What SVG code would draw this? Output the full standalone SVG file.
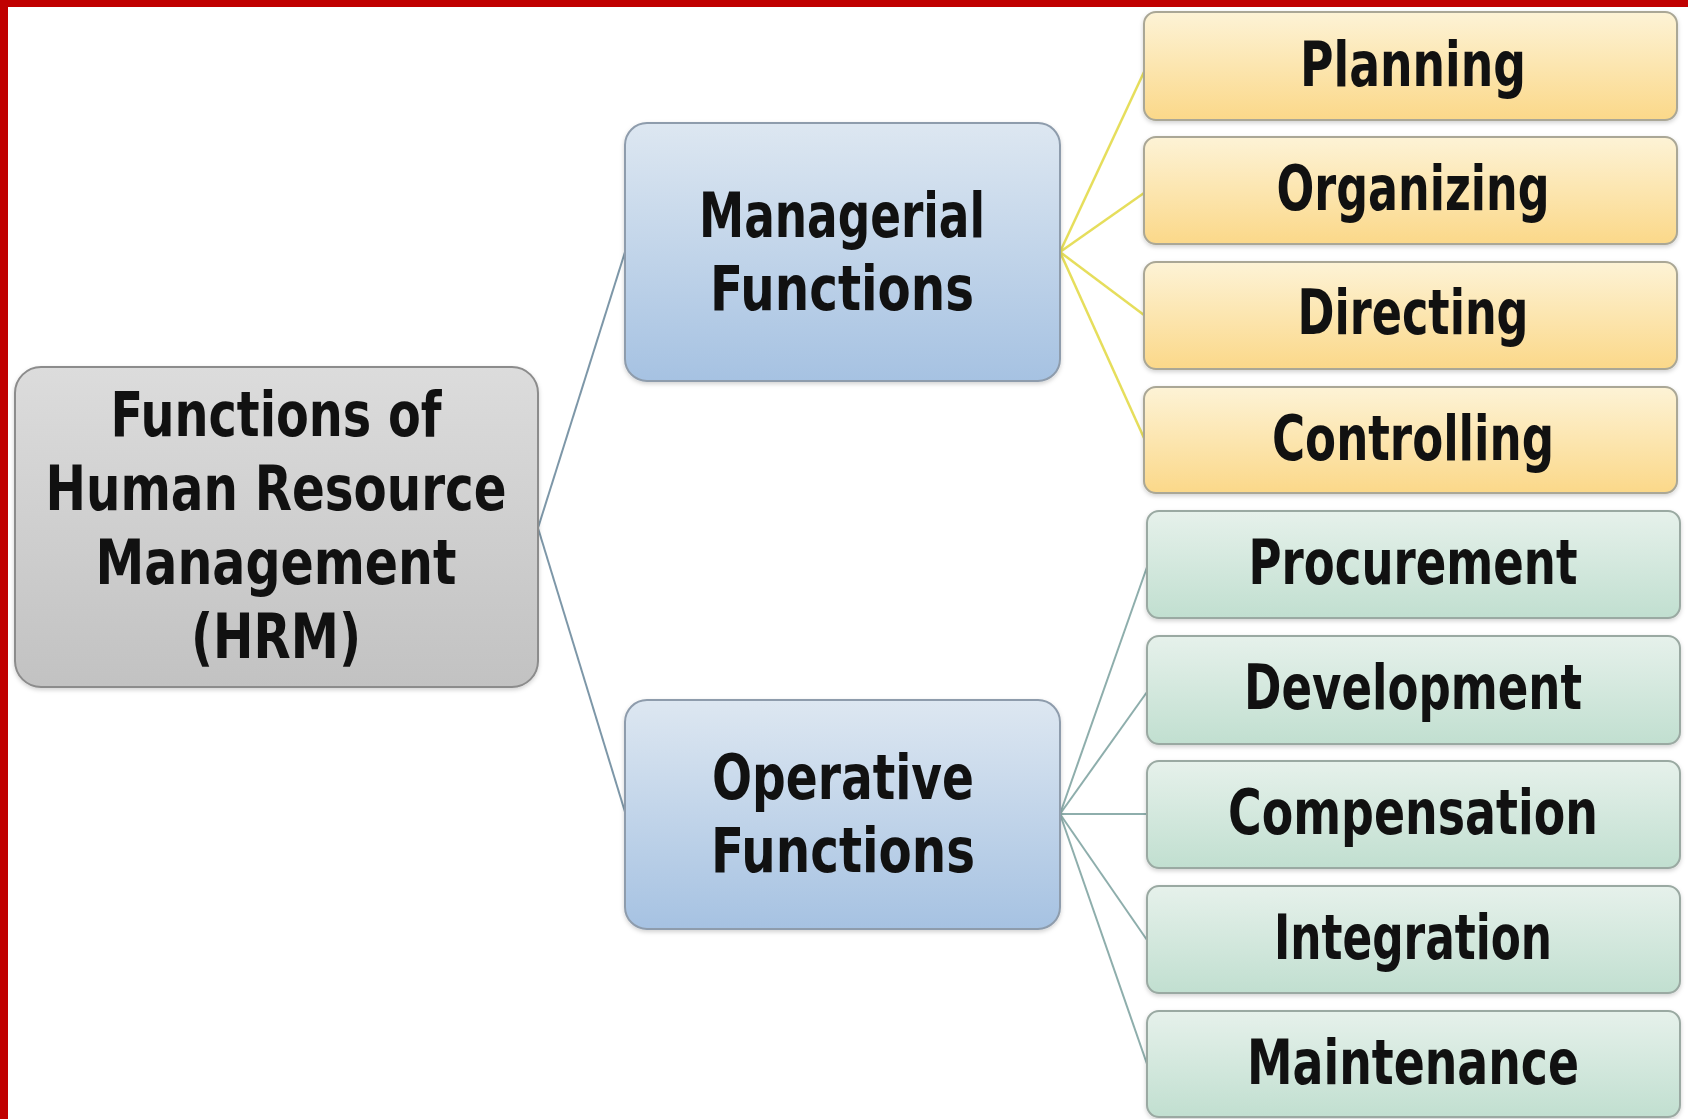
<svg xmlns="http://www.w3.org/2000/svg" width="1688" height="1119" viewBox="0 0 1688 1119">
  <defs>
    <linearGradient id="gGray" x1="0" y1="0" x2="0" y2="1">
      <stop offset="0" stop-color="#dcdcdc"/>
      <stop offset="1" stop-color="#c2c2c2"/>
    </linearGradient>
    <linearGradient id="gBlue" x1="0" y1="0" x2="0" y2="1">
      <stop offset="0" stop-color="#dde7f1"/>
      <stop offset="1" stop-color="#a6c2e2"/>
    </linearGradient>
    <linearGradient id="gYellow" x1="0" y1="0" x2="0" y2="1">
      <stop offset="0" stop-color="#fdf3d6"/>
      <stop offset="1" stop-color="#fbd889"/>
    </linearGradient>
    <linearGradient id="gGreen" x1="0" y1="0" x2="0" y2="1">
      <stop offset="0" stop-color="#e6f1eb"/>
      <stop offset="1" stop-color="#c1dfd0"/>
    </linearGradient>
    <filter id="soft" x="-5%" y="-10%" width="110%" height="125%">
      <feDropShadow dx="0" dy="2" stdDeviation="2" flood-color="#000" flood-opacity="0.18"/>
    </filter>
  </defs>
  <style>
    .lbl { font-family: "Liberation Sans Narrow", "DejaVu Sans Condensed", "Liberation Sans", sans-serif; font-weight: bold; font-size: 63px; fill: #111; text-anchor: middle; }
    .box { stroke-width: 2; filter: url(#soft); }
    .gray { fill: url(#gGray); stroke: #8c8c8c; }
    .blue { fill: url(#gBlue); stroke: #8e9cac; }
    .yellow { fill: url(#gYellow); stroke: #aaa796; }
    .green { fill: url(#gGreen); stroke: #9aa9a2; }
    .c-main { stroke: #7d97a8; stroke-width: 2; fill: none; }
    .c-yel { stroke: #e6de5c; stroke-width: 2.5; fill: none; }
    .c-grn { stroke: #8eaeac; stroke-width: 2; fill: none; }
  </style>

  <rect x="0" y="0" width="1688" height="1119" fill="#ffffff"/>

  <!-- frame: red bars along top and left edges -->
  <rect x="0" y="0" width="1688" height="7" fill="#c00000"/>
  <rect x="0" y="0" width="8" height="1119" fill="#c00000"/>

  <g id="connectors">
    <line class="c-main" x1="538" y1="528" x2="625" y2="252"/>
    <line class="c-main" x1="538" y1="528" x2="625" y2="812"/>
    <line class="c-yel" x1="1060" y1="252" x2="1144" y2="72"/>
    <line class="c-yel" x1="1060" y1="252" x2="1144" y2="193"/>
    <line class="c-yel" x1="1060" y1="252" x2="1144" y2="315"/>
    <line class="c-yel" x1="1060" y1="252" x2="1144" y2="438"/>
    <line class="c-grn" x1="1060" y1="814" x2="1147" y2="567"/>
    <line class="c-grn" x1="1060" y1="814" x2="1147" y2="692"/>
    <line class="c-grn" x1="1060" y1="814" x2="1147" y2="814"/>
    <line class="c-grn" x1="1060" y1="814" x2="1147" y2="940"/>
    <line class="c-grn" x1="1060" y1="814" x2="1147" y2="1064"/>
  </g>

  <g id="hrm">
    <rect class="box gray" x="15" y="367" width="523" height="320" rx="26"/>
    <text class="lbl" x="276" y="436" textLength="331" lengthAdjust="spacingAndGlyphs">Functions of</text>
    <text class="lbl" x="276" y="510" textLength="461" lengthAdjust="spacingAndGlyphs">Human Resource</text>
    <text class="lbl" x="276" y="584" textLength="361" lengthAdjust="spacingAndGlyphs">Management</text>
    <text class="lbl" x="276" y="658" textLength="170" lengthAdjust="spacingAndGlyphs">(HRM)</text>
  </g>

  <g id="managerial">
    <rect class="box blue" x="625" y="123" width="435" height="258" rx="22"/>
    <text class="lbl" x="842" y="237" textLength="286" lengthAdjust="spacingAndGlyphs">Managerial</text>
    <text class="lbl" x="842" y="310" textLength="264" lengthAdjust="spacingAndGlyphs">Functions</text>
  </g>

  <g id="operative">
    <rect class="box blue" x="625" y="700" width="435" height="229" rx="22"/>
    <text class="lbl" x="843" y="799" textLength="262" lengthAdjust="spacingAndGlyphs">Operative</text>
    <text class="lbl" x="843" y="872" textLength="264" lengthAdjust="spacingAndGlyphs">Functions</text>
  </g>

  <g id="planning">
    <rect class="box yellow" x="1144" y="12" width="533" height="108" rx="12"/>
    <text class="lbl" x="1413" y="86" textLength="226" lengthAdjust="spacingAndGlyphs">Planning</text>
  </g>
  <g id="organizing">
    <rect class="box yellow" x="1144" y="137" width="533" height="107" rx="12"/>
    <text class="lbl" x="1413" y="210" textLength="273" lengthAdjust="spacingAndGlyphs">Organizing</text>
  </g>
  <g id="directing">
    <rect class="box yellow" x="1144" y="262" width="533" height="107" rx="12"/>
    <text class="lbl" x="1413" y="334" textLength="231" lengthAdjust="spacingAndGlyphs">Directing</text>
  </g>
  <g id="controlling">
    <rect class="box yellow" x="1144" y="387" width="533" height="106" rx="12"/>
    <text class="lbl" x="1413" y="460" textLength="282" lengthAdjust="spacingAndGlyphs">Controlling</text>
  </g>

  <g id="procurement">
    <rect class="box green" x="1147" y="511" width="533" height="107" rx="12"/>
    <text class="lbl" x="1413" y="584" textLength="329" lengthAdjust="spacingAndGlyphs">Procurement</text>
  </g>
  <g id="development">
    <rect class="box green" x="1147" y="636" width="533" height="108" rx="12"/>
    <text class="lbl" x="1413" y="709" textLength="338" lengthAdjust="spacingAndGlyphs">Development</text>
  </g>
  <g id="compensation">
    <rect class="box green" x="1147" y="761" width="533" height="107" rx="12"/>
    <text class="lbl" x="1413" y="834" textLength="370" lengthAdjust="spacingAndGlyphs">Compensation</text>
  </g>
  <g id="integration">
    <rect class="box green" x="1147" y="886" width="533" height="107" rx="12"/>
    <text class="lbl" x="1413" y="959" textLength="278" lengthAdjust="spacingAndGlyphs">Integration</text>
  </g>
  <g id="maintenance">
    <rect class="box green" x="1147" y="1011" width="533" height="106" rx="12"/>
    <text class="lbl" x="1413" y="1084" textLength="332" lengthAdjust="spacingAndGlyphs">Maintenance</text>
  </g>
</svg>
